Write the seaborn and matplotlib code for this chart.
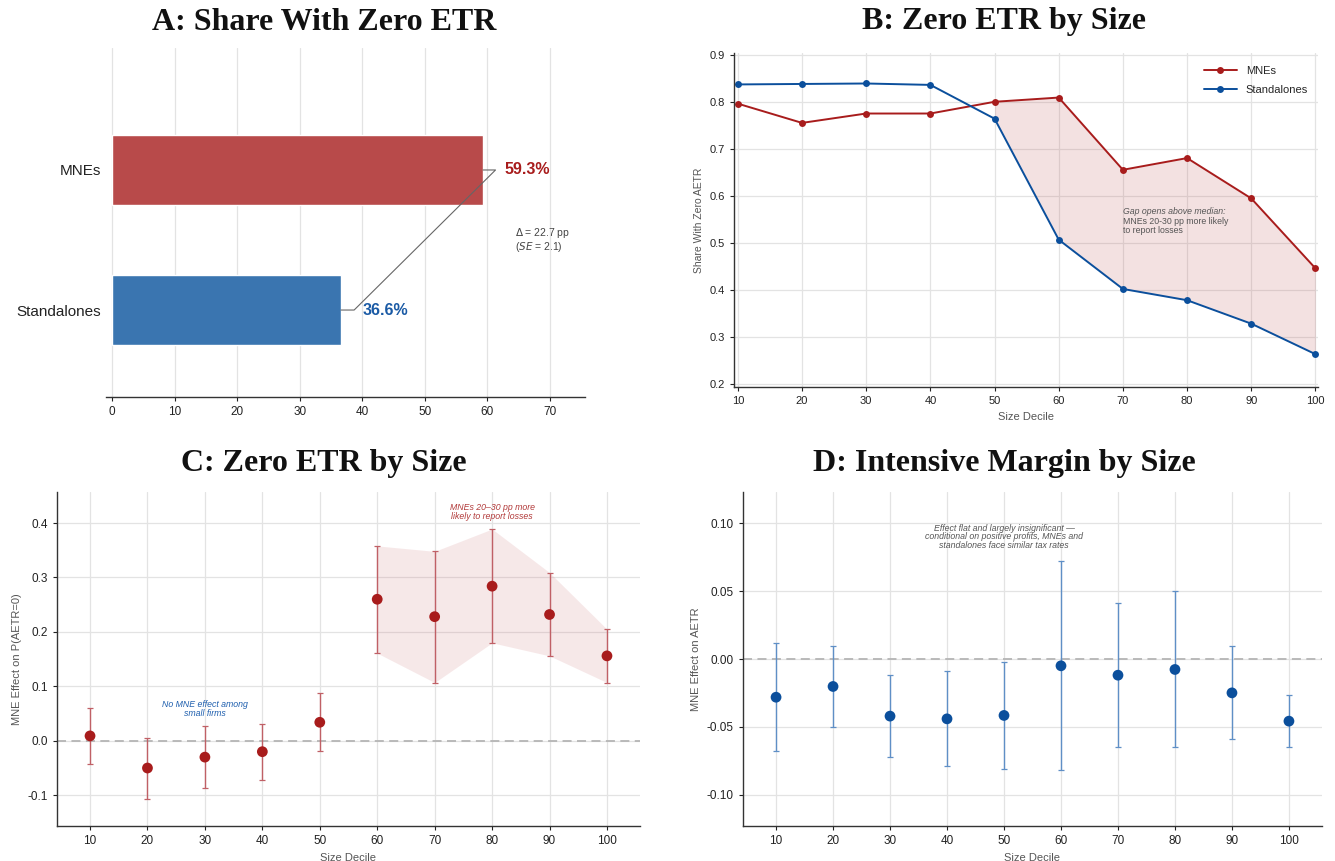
import numpy as np
import pandas as pd
import matplotlib
matplotlib.use("Agg")
import matplotlib.pyplot as plt
import seaborn as sns

# ---- data ----
groups = ["MNEs", "Standalones"]
share_zero = [59.3, 36.6]
delta_pp = 22.7
delta_se = 2.1

deciles = [10, 20, 30, 40, 50, 60, 70, 80, 90, 100]
mne_share = [0.797, 0.756, 0.776, 0.776, 0.801, 0.810, 0.656, 0.681, 0.595, 0.446]
sa_share = [0.838, 0.839, 0.840, 0.837, 0.765, 0.507, 0.402, 0.378, 0.328, 0.263]

ext_coef = [0.009, -0.050, -0.030, -0.020, 0.034, 0.260, 0.228, 0.284, 0.232, 0.156]
ext_lo = [-0.043, -0.107, -0.087, -0.072, -0.019, 0.161, 0.107, 0.180, 0.156, 0.107]
ext_hi = [0.061, 0.005, 0.027, 0.031, 0.087, 0.358, 0.348, 0.389, 0.309, 0.205]

int_coef = [-0.0281, -0.0202, -0.0420, -0.0440, -0.0415, -0.0050, -0.0119, -0.0077, -0.0249, -0.0457]
int_lo = [-0.0677, -0.0499, -0.0721, -0.0790, -0.0807, -0.0819, -0.0650, -0.0650, -0.0587, -0.0646]
int_hi = [0.0118, 0.0094, -0.0119, -0.0085, -0.0021, 0.0723, 0.0412, 0.0498, 0.0092, -0.0266]

# ---- style ----
sns.set_theme(style="ticks")
plt.rcParams["font.family"] = ["Liberation Sans", "DejaVu Sans"]
plt.rcParams["axes.unicode_minus"] = False

RED = "#a81c1c"
BLUE = "#0b4f9c"
RED_BAR = "#b84a4a"
BLUE_BAR = "#3a75b0"
GRID = "#e3e3e3"
TXT = "#222222"
LAB = "#555555"

W, H = 1335, 861
fig = plt.figure(figsize=(W / 100, H / 100), dpi=100)


def add_axes(left, right, top, bottom):
    return fig.add_axes([left / W, 1 - bottom / H, (right - left) / W, (bottom - top) / H])


def style_axes(ax, xgrid=True, ygrid=True):
    for s in ["top", "right"]:
        ax.spines[s].set_visible(False)
    for s in ["left", "bottom"]:
        ax.spines[s].set_color("#333333")
        ax.spines[s].set_linewidth(1.0)
    ax.tick_params(labelsize=8.5, colors=TXT, length=3, width=0.8)
    if xgrid:
        ax.grid(axis="x", color=GRID, lw=0.9)
    if ygrid:
        ax.grid(axis="y", color=GRID, lw=0.9)
    ax.set_axisbelow(True)


def title(x, y, s):
    fig.text(x / W, 1 - y / H, s, ha="center", va="center",
             family="Liberation Serif", fontweight="bold", fontsize=23, color="#111111")


# ---- A: share with zero ETR ----
axA = add_axes(106, 585, 48, 397)
dfA = pd.DataFrame({"group": groups, "share": share_zero})
sns.barplot(data=dfA, y="group", x="share", hue="group",
            palette=[RED_BAR, BLUE_BAR], width=0.5, ax=axA, legend=False, saturation=1)
style_axes(axA, xgrid=True, ygrid=False)
axA.spines["left"].set_visible(False)
axA.tick_params(axis="y", length=0, labelsize=11)
axA.set_xlim(-0.96, 75.6)
axA.set_ylim(1.621, -0.871)
axA.set_xticks([0, 10, 20, 30, 40, 50, 60, 70])
axA.set_xlabel("")
axA.set_ylabel("")
axA.plot([share_zero[0], share_zero[0] + 2.0, share_zero[1] + 2.1, share_zero[1]],
         [0, 0, 1, 1], color="#666666", lw=0.8)
axA.text(share_zero[0] + 3.4, 0, f"{share_zero[0]:.1f}%", color=RED, fontweight="bold",
         fontsize=11.5, va="center", ha="left")
axA.text(share_zero[1] + 3.4, 1, f"{share_zero[1]:.1f}%", color="#1a5aa5", fontweight="bold",
         fontsize=11.5, va="center", ha="left")
axA.text(64.4, 0.5, f"$\\mathit{{\\Delta}}$ = {delta_pp:.1f} pp\n($\\mathit{{SE}}$ = {delta_se:.1f})",
         fontsize=7.5, color="#444444", va="center", ha="left", linespacing=1.0)
title(324, 22, "A: Share With Zero ETR")

# ---- B: zero ETR by size ----
axB = add_axes(734, 1318, 53, 387)
dfB = pd.DataFrame({
    "decile": deciles * 2,
    "share": mne_share + sa_share,
    "group": ["MNEs"] * len(deciles) + ["Standalones"] * len(deciles),
})
sns.lineplot(data=dfB, x="decile", y="share", hue="group", palette=[RED, BLUE],
             marker="o", markersize=5, markeredgewidth=0, lw=1.4, ax=axB)
upper = np.array(deciles) >= 50
axB.fill_between(np.array(deciles)[upper], np.array(sa_share)[upper], np.array(mne_share)[upper],
                 color="#b84a4a", alpha=0.16, lw=0)
style_axes(axB)
axB.set_xlim(9.4, 100.4)
axB.set_ylim(0.193, 0.905)
axB.set_xticks(deciles)
axB.set_yticks([0.2, 0.3, 0.4, 0.5, 0.6, 0.7, 0.8, 0.9])
axB.tick_params(labelsize=8)
axB.set_xlabel("Size Decile", fontsize=8, color=LAB)
axB.set_ylabel("Share With Zero AETR", fontsize=7.5, color=LAB)
axB.legend(frameon=False, fontsize=8, loc="upper right", handlelength=3.0,
           bbox_to_anchor=(1.0, 0.99), title=None, labelspacing=0.8)
axB.text(70, 0.577, "Gap opens above median:", style="italic", fontsize=6.3,
         color="#555555", va="top", ha="left")
axB.text(70, 0.555, "MNEs 20-30 pp more likely\nto report losses", fontsize=6.3,
         color="#555555", va="top", ha="left", linespacing=0.95)
title(1004, 22, "B: Zero ETR by Size")

# ---- C: extensive-margin coefficients ----
axC = add_axes(57, 640, 492, 826)
dfC = pd.DataFrame({"decile": deciles, "coef": ext_coef, "lo": ext_lo, "hi": ext_hi})
big = dfC["decile"] >= 60
axC.fill_between(dfC.loc[big, "decile"], dfC.loc[big, "lo"], dfC.loc[big, "hi"],
                 color="#c9676b", alpha=0.15, lw=0)
axC.axhline(0, color="#b5b5b5", lw=1.3, ls=(0, (5, 3)))
axC.errorbar(dfC["decile"], dfC["coef"],
             yerr=[dfC["coef"] - dfC["lo"], dfC["hi"] - dfC["coef"]],
             fmt="none", ecolor="#c06066", elinewidth=1.0, capsize=2.5, capthick=0.9)
sns.scatterplot(data=dfC, x="decile", y="coef", color=RED, s=60, edgecolor="none", ax=axC, zorder=4)
style_axes(axC)
axC.set_xlim(4.25, 105.75)
axC.set_ylim(-0.1565, 0.457)
axC.set_xticks(deciles)
axC.set_yticks([-0.1, 0.0, 0.1, 0.2, 0.3, 0.4])
axC.set_yticklabels(["-0.1", "0.0", "0.1", "0.2", "0.3", "0.4"])
axC.set_xlabel("Size Decile", fontsize=8, color=LAB)
axC.set_ylabel("MNE Effect on P(AETR=0)", fontsize=8, color=LAB)
axC.text(80, 0.437, "MNEs 20–30 pp more\nlikely to report losses", style="italic", fontsize=6.3,
         color="#b23a3a", ha="center", va="top", linespacing=0.95)
axC.text(30, 0.075, "No MNE effect among\nsmall firms", style="italic", fontsize=6.3,
         color="#1f5fae", ha="center", va="top", linespacing=0.95)
title(324, 464, "C: Zero ETR by Size")

# ---- D: intensive-margin coefficients ----
axD = add_axes(743, 1322, 492, 826)
dfD = pd.DataFrame({"decile": deciles, "coef": int_coef, "lo": int_lo, "hi": int_hi})
axD.axhline(0, color="#b5b5b5", lw=1.3, ls=(0, (5, 3)))
axD.errorbar(dfD["decile"], dfD["coef"],
             yerr=[dfD["coef"] - dfD["lo"], dfD["hi"] - dfD["coef"]],
             fmt="none", ecolor="#5f8fc6", elinewidth=1.0, capsize=2.5, capthick=0.9)
sns.scatterplot(data=dfD, x="decile", y="coef", color=BLUE, s=60, edgecolor="none", ax=axD, zorder=4)
style_axes(axD)
axD.set_xlim(4.2, 105.8)
axD.set_ylim(-0.1228, 0.1228)
axD.set_xticks(deciles)
axD.set_yticks([-0.10, -0.05, 0.0, 0.05, 0.10])
axD.set_yticklabels(["-0.10", "-0.05", "0.00", "0.05", "0.10"])
axD.set_xlabel("Size Decile", fontsize=8, color=LAB)
axD.set_ylabel("MNE Effect on AETR", fontsize=8, color=LAB)
axD.text(50, 0.0995, "Effect flat and largely insignificant —\nconditional on positive profits, MNEs and\n"
         "standalones face similar tax rates", style="italic", fontsize=6.3,
         color="#555555", ha="center", va="top", linespacing=0.95)
title(1004, 464, "D: Intensive Margin by Size")

fig.savefig("out.png", dpi=100)
